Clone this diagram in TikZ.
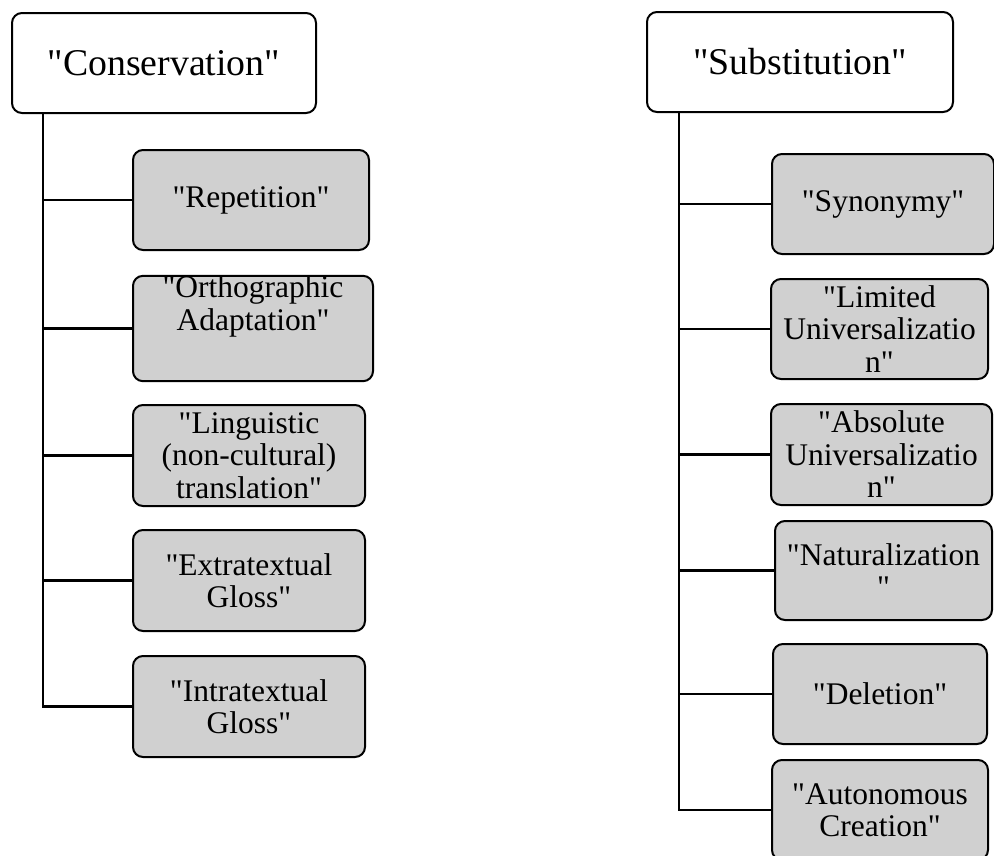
\documentclass[tikz,border=0pt]{standalone}
\usepackage{fontspec}
\setmainfont{Liberation Serif}[Ligatures=TeXOff]
\usepackage{xcolor}
\definecolor{boxgray}{RGB}{208,208,208}
\tikzset{
  headbox/.style={draw, line width=2pt, rounded corners=10pt, fill=white, inner sep=0pt,
    align=center, minimum height=100pt, font=\fontsize{37.8}{42}\selectfont},
  leafbox/.style={draw, line width=2pt, rounded corners=10pt, fill=boxgray, inner sep=0pt,
    align=center, minimum height=100pt, font=\fontsize{31.5}{32.5}\selectfont},
  link/.style={line width=2.5pt}
}
\begin{document}
\begin{tikzpicture}[x=1pt,y=1pt,yscale=-1,xscale=1]
\useasboundingbox (0,0) rectangle (994,855);

% Heads
\node [headbox, minimum width=304pt] (cons) at (164,63) {"Conservation"};
\node [headbox, minimum width=306pt] (subst) at (800,62) {"Substitution"};

% Conservation branch
\node [leafbox, minimum width=236pt] (rep) at (251,200) {"Repetition"};
\node [leafbox, minimum width=240pt, minimum height=105pt] (orth) at (253,328.5) {"Orthographic\\Adaptation"\rule[-51pt]{0pt}{1pt}};
\node [leafbox, minimum width=232pt, minimum height=101pt] (ling) at (249,455.5) {"Linguistic\\(non-cultural)\\translation"};
\node [leafbox, minimum width=232pt, minimum height=101pt] (extra) at (249,580.5) {"Extratextual\\Gloss"};
\node [leafbox, minimum width=232pt, minimum height=101pt] (intra) at (249,706.5) {"Intratextual\\Gloss"};

% Substitution branch
\node [leafbox, minimum width=222pt] (syn) at (883,204) {"Synonymy"};
\node [leafbox, minimum width=217pt] (limu) at (879.5,329) {"Limited\\Universalizatio\\n"};
\node [leafbox, minimum width=221pt, minimum height=101pt] (absu) at (881.5,454.5) {"Absolute\\Universalizatio\\n"};
\node [leafbox, minimum width=217pt, minimum height=99pt] (nat) at (883.5,570.5) {"Naturalization\\"};
\node [leafbox, minimum width=214pt] (del) at (880,694) {"Deletion"};
\node [leafbox, minimum width=216pt] (auto) at (880,810) {"Autonomous\\Creation"};

% Trunks
\coordinate (ltrunk) at (43,0);
\coordinate (rtrunk) at (679,0);
\draw [link] (ltrunk |- cons.south) |- (intra.west);
\draw [link] (rtrunk |- subst.south) |- (auto.west);
\foreach \n in {rep,orth,ling,extra}
  \draw [link] (ltrunk |- \n.west) -- (\n.west);
\foreach \n in {syn,limu,absu,nat,del}
  \draw [link] (rtrunk |- \n.west) -- (\n.west);

\end{tikzpicture}
\end{document}
